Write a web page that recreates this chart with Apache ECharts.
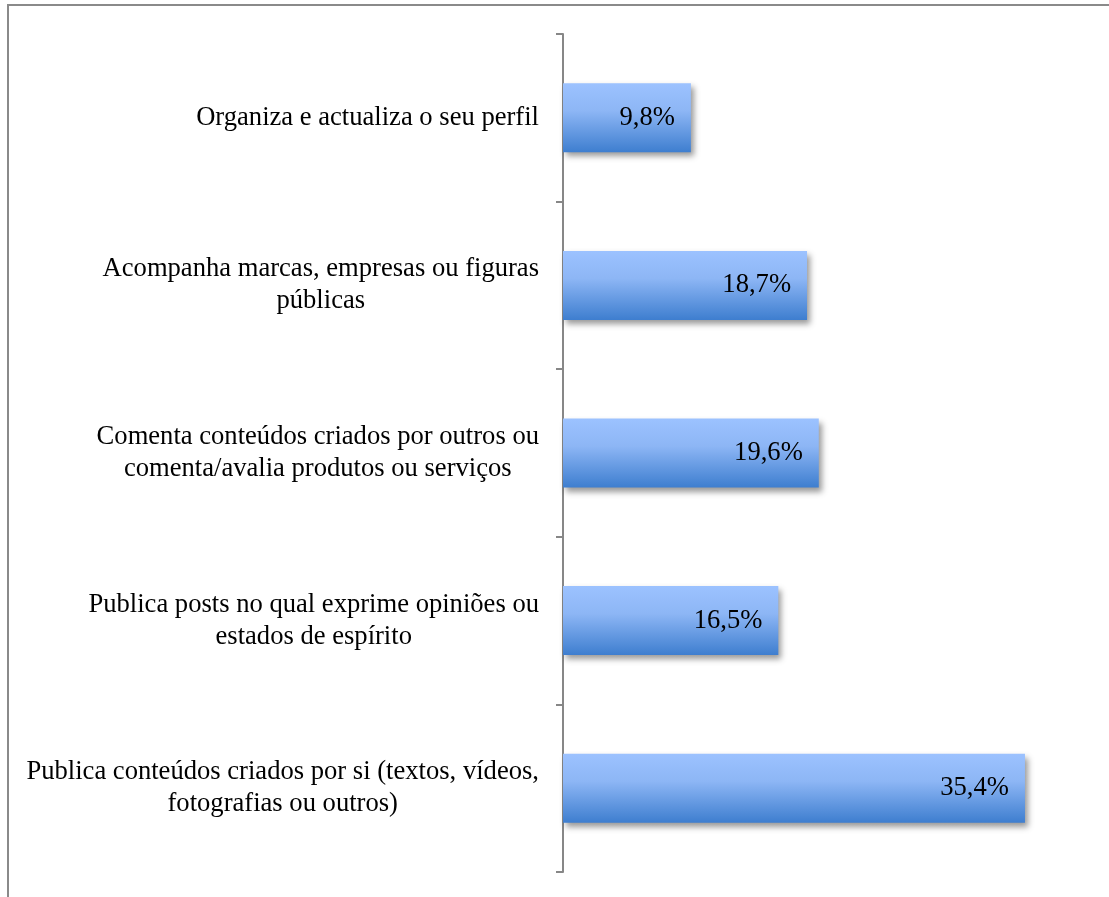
<!DOCTYPE html>
<html>
<head>
<meta charset="utf-8">
<script src="https://cdn.jsdelivr.net/npm/echarts@6/dist/echarts.min.js"></script>
<style>
  html, body { margin: 0; padding: 0; background: #fff; }
  #chart { width: 1109px; height: 897px; }
</style>
</head>
<body>
<div id="chart"></div>
<script>
// Activities, listed top to bottom
const categories = [
  'Organiza e actualiza o seu perfil',
  'Acompanha marcas, empresas ou figuras\npúblicas',
  'Comenta conteúdos criados por outros ou\ncomenta/avalia produtos ou serviços',
  'Publica posts no qual exprime opiniões ou\nestados de espírito',
  'Publica conteúdos criados por si (textos, vídeos,\nfotografias ou outros)'
];
// Share of respondents (%)
const values = [9.8, 18.7, 19.6, 16.5, 35.4];

const serif = '"Liberation Serif", "Times New Roman", serif';
const fs = 26.6;
const chart = echarts.init(document.getElementById('chart'));

chart.setOption({
  backgroundColor: '#ffffff',
  animation: false,
  grid: { left: 563, top: 34, width: 522, height: 838, containLabel: false },
  xAxis: {
    type: 'value',
    min: 0,
    max: 40,
    show: false
  },
  yAxis: {
    type: 'category',
    inverse: true,
    data: categories,
    axisLine: { show: true, lineStyle: { color: '#878787', width: 2 } },
    axisTick: { show: true, inside: false, length: 7, lineStyle: { color: '#878787', width: 2 } },
    splitLine: { show: false },
    axisLabel: {
      margin: 24,
      color: '#000',
      fontFamily: serif,
      fontSize: fs,
      lineHeight: 32,
      formatter: function (v) {
        return v.split('\n').map(function (l) { return '{c|' + l + '}'; }).join('\n');
      },
      rich: {
        c: { align: 'center', fontFamily: serif, fontSize: fs, lineHeight: 32, color: '#000' }
      }
    }
  },
  series: [{
    type: 'bar',
    data: values,
    barWidth: 69,
    itemStyle: {
      color: new echarts.graphic.LinearGradient(0, 0, 0, 1, [
        { offset: 0, color: '#9cc2ff' },
        { offset: 0.4, color: '#8db6f5' },
        { offset: 1, color: '#3e7ecf' }
      ]),
      shadowColor: 'rgba(0,0,0,0.4)',
      shadowBlur: 6,
      shadowOffsetX: 3,
      shadowOffsetY: 4
    },
    label: {
      show: true,
      position: 'insideRight',
      distance: 16,
      color: '#000',
      fontFamily: serif,
      fontSize: fs,
      formatter: function (p) { return p.value.toFixed(1).replace('.', ',') + '%'; }
    }
  }],
  graphic: [
    { type: 'line', shape: { x1: 8, y1: 5, x2: 1109, y2: 5 }, style: { stroke: '#8a8a8a', lineWidth: 2 } },
    { type: 'line', shape: { x1: 8, y1: 4, x2: 8, y2: 897 }, style: { stroke: '#8a8a8a', lineWidth: 2 } }
  ]
});
</script>
</body>
</html>
